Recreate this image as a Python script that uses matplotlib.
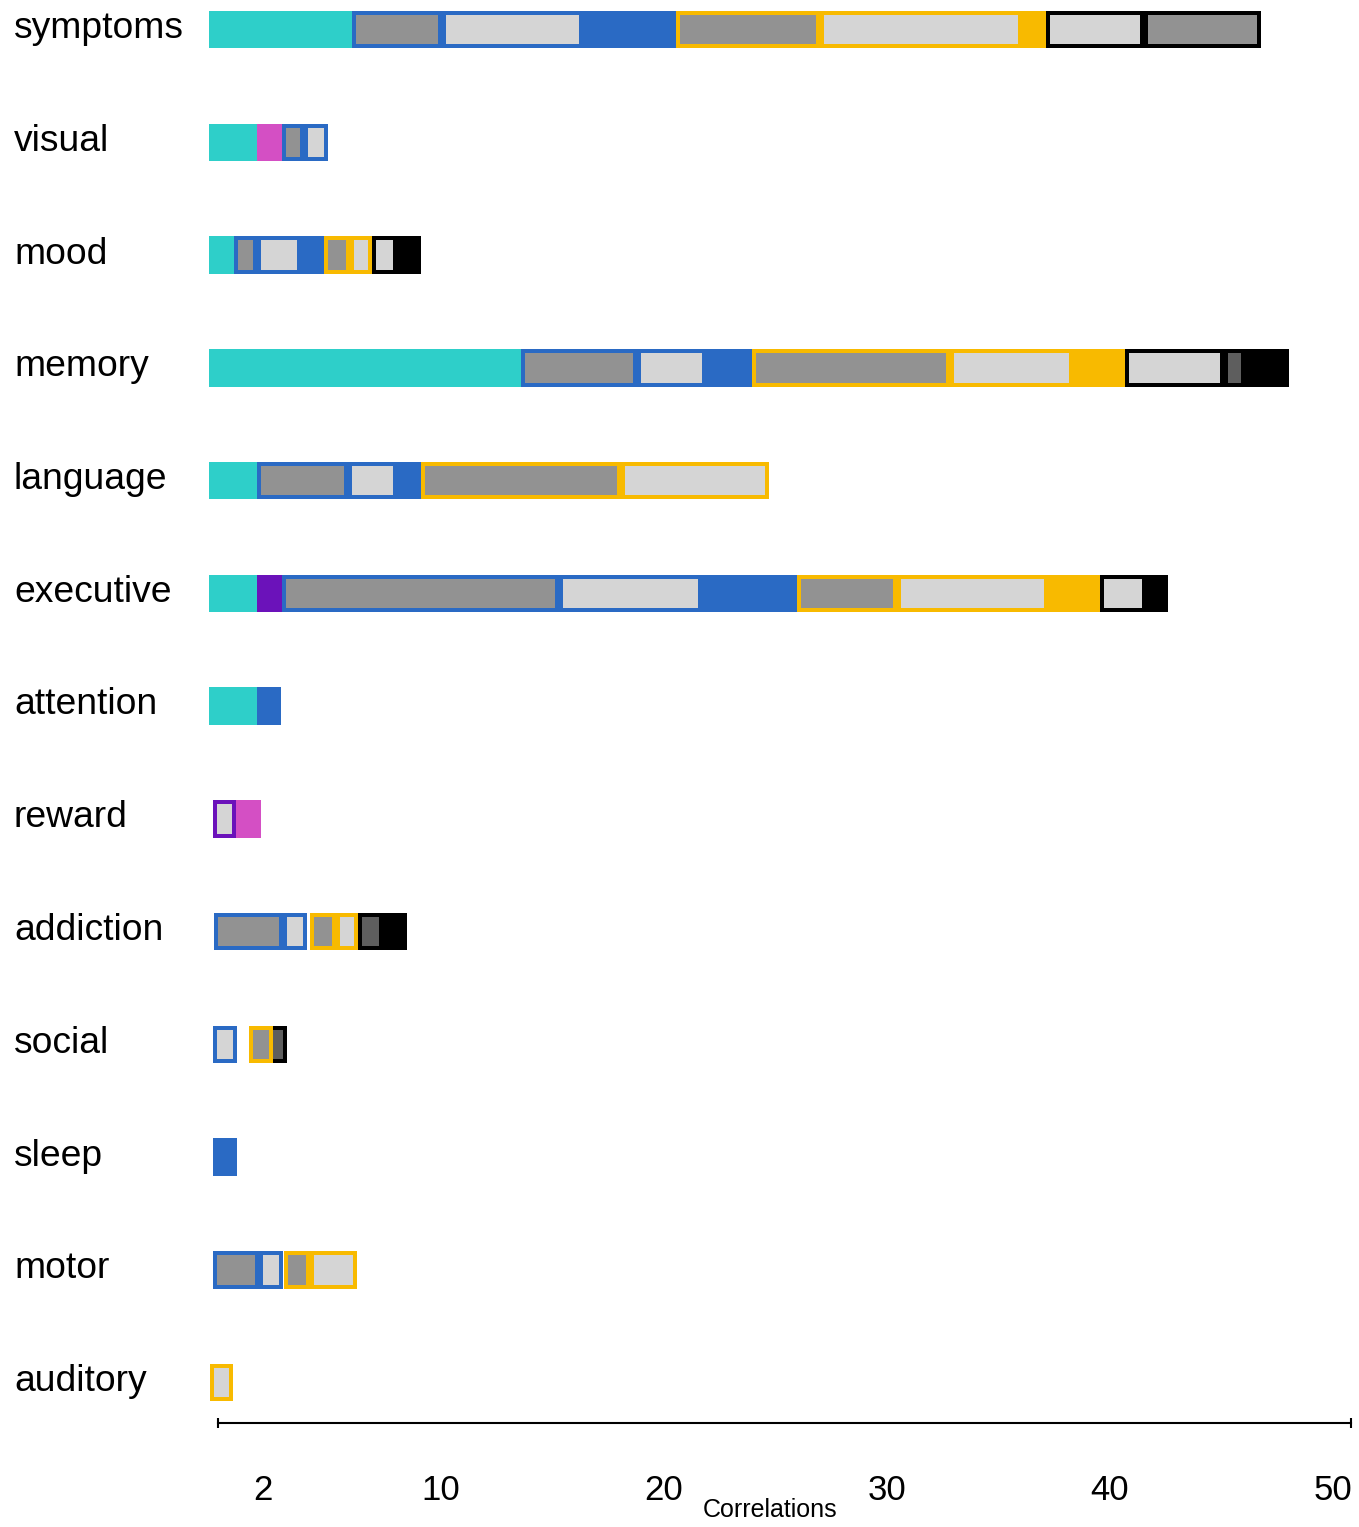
import matplotlib
matplotlib.use("Agg")
import matplotlib.pyplot as plt

plt.rcParams['font.family'] = ['Liberation Sans', 'DejaVu Sans']

categories = ["symptoms", "visual", "mood", "memory", "language", "executive",
              "attention", "reward", "addiction", "social", "sleep", "motor", "auditory"]

# segments per category: (kind, start, width) in correlation units
symptoms = [("cyan", -0.40, 6.41), ("blue_g", 6.01, 4.04), ("blue_lg", 10.05, 6.32),
            ("blue", 16.37, 4.17), ("yellow_g", 20.54, 6.46), ("yellow_lg", 27.00, 9.06),
            ("yellow", 36.05, 1.08), ("black_lg", 37.13, 4.39), ("black_g", 41.52, 5.25)]
visual = [("cyan", -0.40, 2.14), ("magenta", 1.74, 1.12), ("blue_g", 2.86, 1.01),
          ("blue_lg", 3.87, 1.08)]
mood = [("cyan", -0.40, 1.12), ("blue_g", 0.72, 1.04), ("blue_lg", 1.76, 1.96),
        ("blue", 3.72, 1.03), ("yellow_g", 4.75, 1.17), ("yellow_lg", 5.92, 1.00),
        ("black_lg", 6.92, 1.09), ("black", 8.01, 1.08)]
memory = [("cyan", -0.40, 13.99), ("blue_g", 13.59, 5.20), ("blue_lg", 18.79, 3.09),
          ("blue", 21.88, 2.07), ("yellow_g", 23.95, 8.88), ("yellow_lg", 32.83, 5.51),
          ("yellow", 38.34, 2.33), ("black_lg", 40.67, 4.44), ("black_dg", 45.11, 0.94),
          ("black", 46.05, 1.98)]
language = [("cyan", -0.40, 2.15), ("blue_g", 1.75, 4.08), ("blue_lg", 5.83, 2.20),
            ("blue", 8.03, 1.07), ("yellow_g", 9.10, 8.97), ("yellow_lg", 18.07, 6.64)]
executive = [("cyan", -0.40, 2.15), ("purple", 1.75, 1.12), ("blue_g", 2.87, 12.40),
             ("blue_lg", 15.27, 6.42), ("blue", 21.69, 4.29), ("yellow_g", 25.98, 4.45),
             ("yellow_lg", 30.43, 6.79), ("yellow", 37.22, 2.32), ("black_lg", 39.54, 2.06),
             ("black", 41.60, 1.00)]
attention = [("cyan", -0.40, 2.15), ("blue", 1.75, 1.08)]
reward = [("purple_lg", -0.24, 1.05), ("magenta", 0.81, 1.10)]
addiction = [("blue_g", -0.18, 3.11), ("blue_lg", 2.93, 1.07), ("yellow_g", 4.13, 1.16),
             ("yellow_lg", 5.29, 1.00), ("black_dg", 6.29, 1.10), ("black", 7.39, 1.07)]
social = [("blue_lg", -0.24, 1.10), ("black_dg", 2.03, 1.08), ("yellow_g", 1.40, 1.05)]
sleep = [("blue", -0.24, 1.10)]
motor = [("blue_g", -0.24, 2.09), ("blue_lg", 1.85, 1.08), ("yellow_g", 2.96, 1.17),
         ("yellow_lg", 4.13, 2.12)]
auditory = [("yellow_lg", -0.36, 1.02)]

rows = [symptoms, visual, mood, memory, language, executive, attention, reward,
        addiction, social, sleep, motor, auditory]

xtick_values = [2, 10, 20, 30, 40, 50]
axis_end = 50.81

CYAN = "#2ECFC9"
MAGENTA = "#D44FC4"
PURPLE = "#6B12BA"
BLUE = "#2A6AC4"
YELLOW = "#F8BA00"
BLACK = "#000000"
GREY = "#929292"
LGREY = "#D5D5D5"
DGREY = "#5E5E5E"

styles = {
    "cyan": (CYAN, None), "magenta": (MAGENTA, None), "purple": (PURPLE, None),
    "blue": (BLUE, None), "yellow": (YELLOW, None), "black": (BLACK, None),
    "purple_lg": (LGREY, PURPLE),
    "blue_g": (GREY, BLUE), "blue_lg": (LGREY, BLUE),
    "yellow_g": (GREY, YELLOW), "yellow_lg": (LGREY, YELLOW),
    "black_g": (GREY, BLACK), "black_lg": (LGREY, BLACK), "black_dg": (DGREY, BLACK),
}

W, H = 1359, 1527
fig = plt.figure(figsize=(W / 100, H / 100), dpi=100)
ax = fig.add_axes([0, 0, 1, 1])

px_per_unit = 22.3
x0_px = 218
row_px = 112.75
row0_px = 29.5

ax.set_xlim((0 - x0_px) / px_per_unit, (W - x0_px) / px_per_unit)
ax.set_ylim((H - row0_px) / row_px, (0 - row0_px) / row_px)

bar_h = 37.5 / row_px
edge_lw = 8 * 72 / 100  # points; half is clipped away -> 4 px inner stroke

for k, segs in enumerate(rows):
    for kind, start, width in segs:
        face, edge = styles[kind]
        if edge is None:
            ax.barh(k, width, left=start, height=bar_h, color=face, linewidth=0)
        else:
            bars = ax.barh(k, width, left=start, height=bar_h, facecolor=face,
                           edgecolor=edge, linewidth=edge_lw)
            for p in bars:
                p.set_clip_path(p)

# category labels
label_x = (14 - x0_px) / px_per_unit
for k, name in enumerate(categories):
    ax.text(label_x, k + 8.5 / row_px, name, ha="left", va="baseline",
            fontsize=26.8, color="black")

# x axis
axis_y = (1423 - row0_px) / row_px
for s in ["top", "left", "right"]:
    ax.spines[s].set_visible(False)
ax.spines["bottom"].set_position(("data", axis_y))
ax.spines["bottom"].set_bounds(0, axis_end)
ax.spines["bottom"].set_linewidth(1.5)
ax.plot([0, axis_end], [axis_y, axis_y], ls="none", marker="|", markersize=7,
        markeredgewidth=1.5, color="black", clip_on=False)
ax.set_yticks([])
ax.set_xticks(xtick_values)
ax.set_xticklabels([str(v) for v in xtick_values])
ax.tick_params(axis="x", length=0, pad=37, labelsize=25)

ax.text((770 - x0_px) / px_per_unit, (1517 - row0_px) / row_px, "Correlations",
        ha="center", va="baseline", fontsize=18)

fig.savefig("out.png", dpi=100)
